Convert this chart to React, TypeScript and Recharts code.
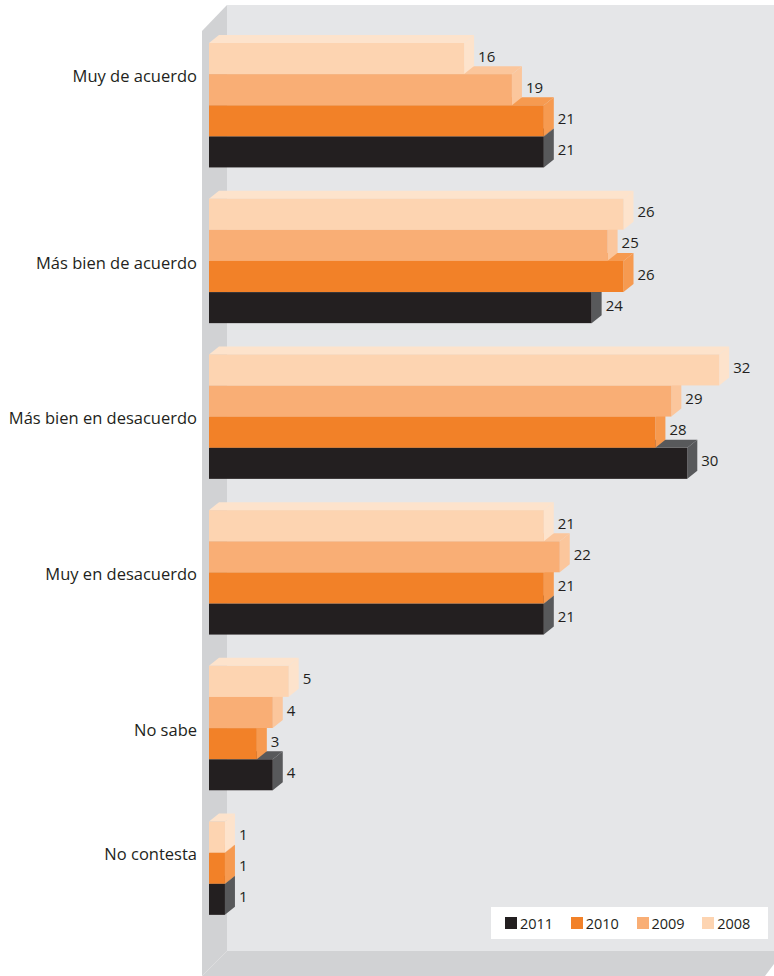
import React from "react";
import { Bar, BarChart, LabelList, Legend, XAxis, YAxis } from "recharts";

const categories = [
  "Muy de acuerdo",
  "Más bien de acuerdo",
  "Más bien en desacuerdo",
  "Muy en desacuerdo",
  "No sabe",
  "No contesta"
];

// legend order (also draw order: bottom bar of each group first)
const years = ["2011", "2010", "2009", "2008"];

const values2008 = [16, 26, 32, 21, 5, 1];
const values2009: (number | null)[] = [19, 25, 29, 22, 4, null];
const values2010 = [21, 26, 28, 21, 3, 1];
const values2011 = [21, 24, 30, 21, 4, 1];

const valuesByYear: Record<string, (number | null)[]> = {
  "2008": values2008,
  "2009": values2009,
  "2010": values2010,
  "2011": values2011
};

const colors: Record<string, { front: string; side: string }> = {
  "2011": { front: "#231f20", side: "#58595b" },
  "2010": { front: "#f28128", side: "#f69a50" },
  "2009": { front: "#f9ae75", side: "#fbc69c" },
  "2008": { front: "#fdd4b1", side: "#fde3cc" }
};

const FONT = "'Open Sans', 'Noto Sans', sans-serif";
const TEXT = "#231f20";
const DX = 10;
const DY = 8;
const ROW_HALF = 15.57;

// one chart row per bar, top to bottom 2008..2011, blank row between groups
type Row = { key: string; label: string; [k: string]: any };
const rows: Row[] = [];
categories.forEach((cat, ci) => {
  const present = ["2008", "2009", "2010", "2011"].filter(
    (y) => valuesByYear[y][ci] != null
  );
  // the first label sits a row higher in the source
  const labelAt = ci === 0 ? 1 : Math.floor(present.length / 2);
  present.forEach((y, i) => {
    rows.push({
      key: `${ci}-${y}`,
      label: i === labelAt ? cat : "",
      [`y${y}`]: valuesByYear[y][ci]
    });
  });
  if (ci < categories.length - 1) rows.push({ key: `gap-${ci}`, label: "" });
});
const labelByKey = new Map(rows.map((r) => [r.key, r.label]));

function Bar3D(props: any) {
  const { x, y, width, height, fill, side } = props;
  if (!width || width <= 0 || !height) return null;
  const r = x + width;
  return (
    <g>
      <polygon
        points={`${x},${y} ${x + DX},${y - DY} ${r + DX},${y - DY} ${r},${y}`}
        fill={side}
      />
      <polygon
        points={`${r},${y} ${r + DX},${y - DY} ${r + DX},${y + height - DY} ${r},${y + height}`}
        fill={side}
      />
      <rect x={x} y={y} width={width} height={height} fill={fill} />
    </g>
  );
}

function ValueLabel(props: any) {
  const { x, y, width, height, value } = props;
  if (value == null || !width || width <= 0) return null;
  return (
    <text
      x={x + width + DX + 4}
      y={y + height / 2 - 3}
      dominantBaseline="central"
      fontFamily={FONT}
      fontSize={15}
      fill={TEXT}
    >
      {value}
    </text>
  );
}

function CategoryTick(props: any) {
  const { x, y, payload } = props;
  const label = labelByKey.get(payload.value);
  if (!label) return null;
  return (
    <text
      x={x}
      y={y - ROW_HALF + 1}
      textAnchor="end"
      dominantBaseline="central"
      fontFamily={FONT}
      fontSize={16.5}
      fill={TEXT}
    >
      {label}
    </text>
  );
}

function LegendBox({ payload }: any) {
  const items = [...(payload || [])].sort(
    (a: any, b: any) => years.indexOf(a.value) - years.indexOf(b.value)
  );
  return (
    <div
      style={{
        background: "#fff",
        width: 277,
        height: 32,
        boxSizing: "border-box",
        paddingLeft: 14,
        display: "flex",
        alignItems: "center",
        fontFamily: FONT,
        fontSize: 14.5,
        color: TEXT
      }}
    >
      {items.map((item: any) => (
        <div
          key={item.value}
          style={{ display: "flex", alignItems: "center", width: 68 }}
        >
          <span
            style={{
              display: "inline-block",
              width: 12,
              height: 12,
              background: item.color,
              marginRight: 3
            }}
          />
          {item.value}
        </div>
      ))}
    </div>
  );
}

export default function App() {
  return (
    <div
      style={{
        position: "absolute",
        left: 0,
        top: 0,
        width: 774,
        height: 976,
        background: "#fff"
      }}
    >
      <svg
        width={774}
        height={976}
        style={{ position: "absolute", left: 0, top: 0 }}
      >
        <rect x={227} y={5} width={547} height={946} fill="#e5e6e8" />
        <polygon points="202,31 227,5 227,951 202,976" fill="#d1d2d4" />
        <polygon points="202,976 227,951 774,951 774,964 765,976" fill="#d1d2d4" />
      </svg>
      <div style={{ position: "absolute", left: 0, top: 0 }}>
        <BarChart
          width={774}
          height={976}
          layout="vertical"
          data={rows}
          margin={{ top: 43, right: 7, bottom: 61, left: 0 }}
          barCategoryGap={0}
          barGap={0}
        >
          <XAxis type="number" domain={[0, 35]} hide />
          <YAxis
            type="category"
            dataKey="key"
            width={209}
            interval={0}
            tickLine={false}
            axisLine={false}
            tickSize={0}
            tickMargin={12}
            tick={<CategoryTick />}
          />
          <Legend
            verticalAlign="middle"
            align="center"
            wrapperStyle={{ left: 491, top: 907, width: 277, height: 32 }}
            content={<LegendBox />}
          />
          {years.map((yr) => (
            <Bar
              key={yr}
              name={yr}
              dataKey={`y${yr}`}
              stackId="rows"
              fill={colors[yr].front}
              isAnimationActive={false}
              shape={(p: any) => <Bar3D {...p} side={colors[yr].side} />}
            >
              <LabelList dataKey={`y${yr}`} content={<ValueLabel />} />
            </Bar>
          ))}
        </BarChart>
      </div>
    </div>
  );
}
